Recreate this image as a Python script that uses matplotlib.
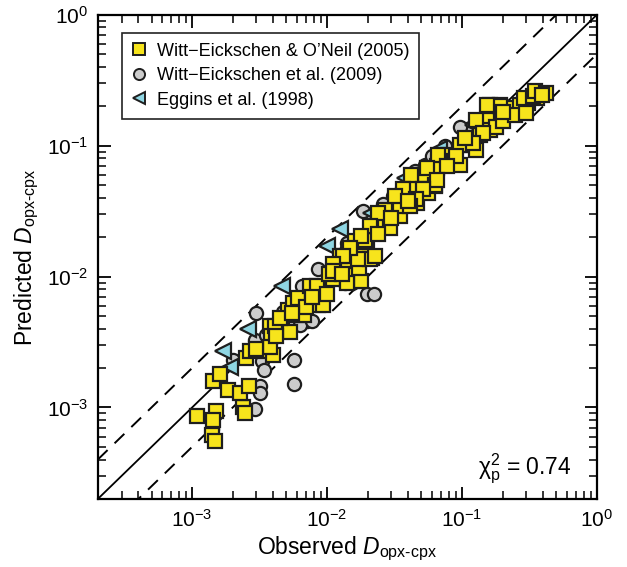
import matplotlib
matplotlib.use("Agg")
import matplotlib.pyplot as plt
import numpy as np

plt.rcParams['font.family'] = ['Liberation Sans', 'DejaVu Sans']
plt.rcParams['mathtext.fontset'] = 'custom'
plt.rcParams['mathtext.rm'] = 'Liberation Sans'
plt.rcParams['mathtext.it'] = 'Liberation Sans:italic'
plt.rcParams['mathtext.bf'] = 'Liberation Sans:bold'

# Witt-Eickschen & O'Neil (2005): observed, predicted
wo_obs = [1.08e-3, 1.5e-3, 1.44e-3, 1.4e-3, 1.49e-3, 2.37e-3, 2.48e-3, 1.86e-3, 2.27e-3, 2.66e-3,
          1.42e-3, 1.6e-3, 2.5e-3, 2.7e-3, 3.5e-3, 4.0e-3, 3.8e-3, 3.85e-3, 5.3e-3, 5.1e-3,
          5.6e-3, 6.0e-3, 6.3e-3, 6.1e-3, 8.1e-3, 8.5e-3, 8.9e-3, 7.5e-3, 0.0156, 3.8e-3,
          3.0e-3, 4.1e-3, 4.2e-3, 6.7e-3, 7.0e-3, 8.4e-3, 9.4e-3, 9.95e-3, 0.0111, 0.0117,
          0.0125, 0.0148, 0.0144, 0.0152, 0.0156, 0.018, 0.0188, 0.0173, 0.0214, 0.0166,
          0.0197, 0.0125, 0.0161, 0.0191, 0.0185, 0.0208, 0.0214, 0.0269, 0.0293, 0.0269,
          0.0347, 0.0347, 0.0367, 0.0436, 0.0462, 0.0449, 0.0516, 0.0562, 0.063, 0.0613,
          0.065, 0.077, 0.0863, 0.0227, 0.017, 0.0532, 0.063, 0.065, 0.079, 0.088,
          0.0967, 0.115, 0.136, 0.128, 0.154, 0.161, 0.18, 0.202, 0.191, 0.233,
          0.269, 0.31, 0.357, 0.247, 0.3, 0.16, 0.19, 0.29, 0.336, 0.347,
          0.153, 0.128, 0.097, 0.066, 0.055, 0.042, 0.0367, 0.032, 0.024, 0.0208,
          0.018, 0.0148, 0.0132, 0.0111, 0.0103, 0.014, 0.143, 0.121, 0.091, 0.077,
          0.065, 0.0516, 0.046, 0.041, 0.42, 0.39, 4.5e-3, 5.5e-3, 7.8e-3, 0.011,
          0.013, 0.024, 0.03, 0.04, 0.105, 0.2]
wo_pred = [8.6e-4, 9.4e-4, 8.0e-4, 6.2e-4, 5.5e-4, 1.0e-3, 9.0e-4, 1.36e-3, 1.28e-3, 1.47e-3,
           1.58e-3, 1.8e-3, 2.4e-3, 2.7e-3, 2.7e-3, 2.5e-3, 4.2e-3, 3.5e-3, 3.76e-3, 5.6e-3,
           6.3e-3, 5.1e-3, 6.0e-3, 6.9e-3, 6.8e-3, 6.1e-3, 7.3e-3, 8.5e-3, 9.2e-3, 2.9e-3,
           2.8e-3, 4.2e-3, 3.5e-3, 5.1e-3, 5.9e-3, 8.5e-3, 6.1e-3, 7.3e-3, 9.6e-3, 0.0121,
           0.0124, 0.0152, 0.0121, 9.5e-3, 0.0102, 9.2e-3, 0.0139, 0.0116, 0.0139, 0.018,
           0.0186, 0.0143, 0.0186, 0.0191, 0.0143, 0.0135, 0.0242, 0.0267, 0.0235, 0.0324,
           0.0288, 0.0344, 0.0423, 0.0423, 0.0365, 0.0495, 0.060, 0.0435, 0.0495, 0.0583,
           0.0695, 0.0738, 0.0759, 0.0143, 0.0135, 0.060, 0.050, 0.0675, 0.0854, 0.0759,
           0.0716, 0.102, 0.121, 0.093, 0.158, 0.132, 0.14, 0.153, 0.205, 0.194,
           0.205, 0.212, 0.231, 0.172, 0.177, 0.205, 0.2, 0.23, 0.24, 0.262,
           0.205, 0.158, 0.102, 0.0854, 0.0675, 0.060, 0.047, 0.041, 0.0306, 0.0242,
           0.0203, 0.0166, 0.0143, 0.0124, 0.0105, 8.9e-3, 0.125, 0.105, 0.083, 0.0695,
           0.055, 0.047, 0.039, 0.0344, 0.252, 0.245, 4.8e-3, 5.3e-3, 7.0e-3, 0.011,
           0.0105, 0.021, 0.028, 0.038, 0.115, 0.18]

# Witt-Eickschen et al. (2009)
we_obs = [1.4e-3, 2.9e-3, 3.2e-3, 3.2e-3, 5.7e-3, 5.7e-3, 3.3e-3, 3.4e-3, 2.9e-3, 3.5e-3,
          2.95e-3, 4.56e-3, 4.7e-3, 5.8e-3, 7.1e-3, 7.1e-3, 0.0197, 0.0136, 8.6e-3, 5.2e-3,
          6.3e-3, 7.7e-3, 0.0223, 0.014, 0.0152, 0.0185, 0.031, 0.0532, 0.014, 0.0596,
          0.115, 0.0449, 6.5e-3, 0.097, 2.0e-3, 0.026, 0.04, 0.075]
we_pred = [6.8e-4, 9.7e-4, 1.47e-3, 1.28e-3, 1.52e-3, 2.3e-3, 2.26e-3, 1.93e-3, 3.3e-3, 3.6e-3,
           5.3e-3, 4.56e-3, 5.35e-3, 4.4e-3, 4.56e-3, 8.5e-3, 7.3e-3, 8.9e-3, 0.0115, 5.4e-3,
           4.3e-3, 4.56e-3, 7.3e-3, 0.0166, 8.9e-3, 0.0315, 0.041, 0.0716, 0.018, 0.083,
           0.136, 0.0637, 8.5e-3, 0.14, 2.3e-3, 0.036, 0.052, 0.1]

# Eggins et al. (1998)
eg_obs = [1.9e-3, 1.7e-3, 2.6e-3, 4.6e-3, 0.0100, 0.0125, 0.021, 0.038, 0.068, 0.12]
eg_pred = [2.05e-3, 2.7e-3, 4.0e-3, 8.5e-3, 0.017, 0.0229, 0.0306, 0.0566, 0.095, 0.145]

lims = [2e-4, 1.0]

fig = plt.figure(figsize=(6.27, 5.67), dpi=100)
ax = fig.add_axes([0.156, 0.120, 0.796, 0.854])
ax.set_xscale('log')
ax.set_yscale('log')
ax.set_xlim(lims)
ax.set_ylim(lims)

xx = np.array(lims)
ax.plot(xx, xx, color='black', lw=1.3, zorder=1)
ax.plot(xx, xx * 2, color='black', lw=1.4, ls=(0, (7, 5)), zorder=1)
ax.plot(xx, xx / 2, color='black', lw=1.4, ls=(0, (7, 5)), zorder=1)

ec = '#1e1e1e'
h2, = ax.plot(we_obs, we_pred, 'o', ms=9.5, mfc='#cccccc', mec=ec, mew=1.6, zorder=2,
              label='Witt\u2212Eickschen et al. (2009)')
h3, = ax.plot(eg_obs, eg_pred, '<', ms=11.5, mfc='#8fd6e3', mec=ec, mew=1.6, zorder=3,
              label='Eggins et al. (1998)')
h1, = ax.plot(wo_obs, wo_pred, 's', ms=9.5, mfc='#f7e41c', mec=ec, mew=1.6, zorder=4,
              label='Witt\u2212Eickschen & O\u2019Neil (2005)')

leg = ax.legend(handles=[h1, h2, h3], loc='upper left', bbox_to_anchor=(0.048, 0.963),
                borderaxespad=0, fontsize=13, frameon=True, fancybox=False,
                framealpha=1, edgecolor='#222222', handlelength=0.8, handletextpad=0.6,
                borderpad=0.55, labelspacing=0.42)
leg.get_frame().set_linewidth(1.2)
for h in leg.legend_handles:
    h.set_markersize(8)
    h.set_markeredgewidth(1.4)

ax.text(0.95, 0.05, r'$\mathrm{\chi}^2_\mathrm{p}$ = 0.74', transform=ax.transAxes,
        ha='right', va='baseline', fontsize=16.5)

ax.set_xlabel(r'Observed $D_{\mathrm{opx}\text{-}\mathrm{cpx}}$', fontsize=16.5, labelpad=3)
ax.set_ylabel(r'Predicted $D_{\mathrm{opx}\text{-}\mathrm{cpx}}$', fontsize=16.5, labelpad=4)

ax.set_xticks([1e-3, 1e-2, 1e-1, 1e0])
ax.set_yticks([1e-3, 1e-2, 1e-1, 1e0])
ax.tick_params(which='both', direction='in', top=True, right=True, labelsize=15)
ax.tick_params(which='major', length=9, width=1.3, pad=7)
ax.tick_params(which='minor', length=5.5, width=1.1)
for s in ax.spines.values():
    s.set_linewidth(1.6)

fig.savefig('out.png', dpi=100)
